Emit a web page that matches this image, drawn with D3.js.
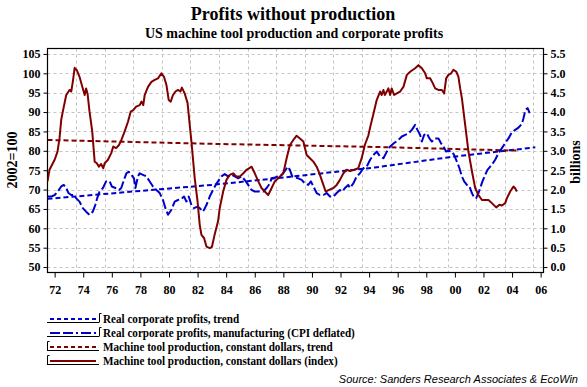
<!DOCTYPE html>
<html><head><meta charset="utf-8">
<script src="https://cdn.jsdelivr.net/npm/d3@7/dist/d3.min.js"></script>
<style>
body{margin:0;background:#fff;}
svg text{font-family:"Liberation Serif","Times New Roman",serif;}
</style></head>
<body><svg id="c" width="587" height="387"></svg>
<script>
// ---------- data ----------
// Machine tool production, constant dollars (index, 2002=100) – left axis
const mtYears = [1972.0,1972.14,1972.5,1972.7,1972.84,1972.96,1973.07,1973.31,1973.54,1973.66,1973.77,1973.9,1974.05,1974.24,1974.47,1974.6,1974.7,1974.8,1974.94,1975.13,1975.3,1975.45,1975.6,1975.75,1975.9,1976.0,1976.23,1976.46,1976.6,1976.8,1977.0,1977.17,1977.4,1977.63,1977.82,1978.0,1978.2,1978.45,1978.57,1978.7,1978.8,1979.03,1979.27,1979.5,1979.73,1979.97,1980.15,1980.32,1980.48,1980.62,1980.78,1980.95,1981.13,1981.3,1981.4,1981.6,1981.8,1981.95,1982.07,1982.3,1982.5,1982.65,1982.77,1982.95,1983.12,1983.35,1983.5,1983.7,1983.93,1984.05,1984.29,1984.52,1984.75,1984.99,1985.2,1985.46,1985.7,1985.93,1986.28,1986.5,1986.75,1986.97,1987.2,1987.44,1987.68,1987.9,1988.14,1988.5,1988.73,1988.96,1989.2,1989.43,1989.66,1989.9,1990.13,1990.36,1990.6,1990.83,1991.06,1991.3,1991.46,1991.7,1992.0,1992.23,1992.46,1992.7,1992.93,1993.16,1993.46,1993.74,1993.98,1994.2,1994.45,1994.6,1994.8,1995.03,1995.27,1995.38,1995.5,1995.6,1995.85,1995.97,1996.08,1996.25,1996.44,1996.67,1996.9,1997.14,1997.37,1997.72,1997.95,1998.19,1998.42,1998.54,1998.77,1998.96,1999.12,1999.35,1999.59,1999.75,1999.89,2000.05,2000.24,2000.4,2000.6,2000.75,2000.87,2000.99,2001.22,2001.45,2001.7,2001.92,2002.15,2002.39,2002.62,2002.85,2003.09,2003.39,2003.62,2003.79,2004.02,2004.14,2004.37,2004.6,2004.7,2004.84];
const mtIndex = [72.1,75.1,77.7,79.8,83.2,88.0,90.1,94.4,95.7,95.3,97.8,101.4,100.8,99.1,96.1,94.4,96.1,94.8,90.1,85.0,77.2,76.8,75.9,76.6,75.5,76.8,77.7,79.4,81.1,80.7,81.5,82.8,85.0,87.5,90.1,90.5,91.4,91.8,92.7,91.8,94.4,96.5,97.8,98.3,98.7,100.0,99.1,97.0,93.1,92.7,94.4,95.3,95.7,95.3,96.3,94.8,92.3,86.7,82.4,72.9,66.9,60.9,58.3,57.5,55.3,54.9,55.2,58.5,61.8,65.2,69.5,72.5,73.8,74.2,73.4,73.4,74.2,75.1,75.9,74.2,72.1,70.4,69.5,68.6,70.4,72.1,72.9,74.2,78.1,81.5,82.8,83.9,83.2,82.4,78.9,78.1,77.2,75.9,73.8,71.2,69.5,69.9,70.4,71.2,72.5,74.2,75.1,74.8,75.1,75.5,78.1,81.5,84.0,86.5,89.5,93.1,95.3,94.4,95.7,94.4,96.1,94.4,96.1,94.4,94.8,95.3,96.5,99.6,100.4,101.3,102.1,101.3,100.0,98.7,98.7,97.4,96.1,95.7,95.7,94.8,98.7,99.6,100.0,100.9,100.4,99.1,96.1,93.6,86.7,79.8,74.6,70.4,68.6,67.3,67.3,67.3,66.5,65.4,66.1,65.9,66.5,67.8,69.5,70.8,70.4,69.5];
// Machine tool production, trend – left axis
const mtTrendYears = [1972.0,1983.5,1994.9,2004.84];
const mtTrend = [82.8,81.8,81.0,80.05];
// Real corporate profits, manufacturing (CPI deflated), billions – right axis
const cpYears = [1972.0,1972.26,1972.5,1972.72,1972.96,1973.14,1973.31,1973.47,1973.66,1973.84,1974.0,1974.24,1974.47,1974.7,1974.94,1975.17,1975.34,1975.48,1975.64,1975.88,1976.1,1976.35,1976.5,1976.75,1977.0,1977.16,1977.35,1977.52,1977.68,1977.87,1978.05,1978.15,1978.33,1978.45,1978.68,1978.92,1979.15,1979.38,1979.62,1979.85,1980.08,1980.25,1980.43,1980.67,1980.9,1981.13,1981.37,1981.55,1981.72,1981.88,1982.07,1982.25,1982.5,1982.65,1982.88,1983.12,1983.35,1983.58,1983.8,1983.93,1984.17,1984.4,1984.63,1984.87,1985.1,1985.34,1985.57,1985.8,1986.04,1986.27,1986.5,1986.86,1987.09,1987.33,1987.56,1987.68,1987.91,1988.14,1988.38,1988.61,1988.8,1988.96,1989.12,1989.31,1989.54,1989.78,1990.0,1990.24,1990.43,1990.6,1990.83,1991.06,1991.3,1991.53,1991.76,1992.0,1992.23,1992.46,1992.62,1992.81,1993.04,1993.16,1993.4,1993.63,1993.86,1994.1,1994.33,1994.57,1994.8,1995.03,1995.27,1995.5,1995.74,1995.97,1996.25,1996.55,1996.79,1997.02,1997.25,1997.49,1997.72,1997.88,1998.07,1998.19,1998.35,1998.54,1998.72,1998.89,1999.12,1999.35,1999.52,1999.7,1999.89,2000.05,2000.29,2000.45,2000.64,2000.82,2000.99,2001.15,2001.34,2001.52,2001.69,2001.85,2001.99,2002.15,2002.27,2002.43,2002.62,2002.78,2002.97,2003.16,2003.32,2003.55,2003.79,2004.02,2004.25,2004.49,2004.72,2004.95,2005.18,2005.3,2005.43,2005.59,2005.73];
const cpProfits = [1.82,1.82,1.86,1.95,2.08,2.12,2.04,1.91,1.86,1.86,1.78,1.69,1.52,1.43,1.35,1.43,1.60,1.78,1.95,2.04,2.21,2.21,2.08,2.04,1.99,2.04,2.25,2.42,2.46,2.38,2.29,2.04,2.34,2.42,2.38,2.34,2.21,2.08,1.99,1.91,1.73,1.52,1.35,1.48,1.69,1.73,1.76,1.82,1.69,1.82,1.60,1.52,1.56,1.52,1.43,1.60,1.82,1.99,2.14,2.21,2.34,2.40,2.34,2.38,2.34,2.29,2.34,2.25,2.12,1.99,1.95,1.95,1.95,2.04,2.16,2.29,2.31,2.34,2.38,2.48,2.59,2.51,2.34,2.31,2.29,2.25,2.16,2.12,2.21,2.08,1.91,1.86,1.86,1.91,1.82,1.82,1.91,1.99,1.95,2.04,2.12,2.04,2.16,2.34,2.42,2.55,2.59,2.77,2.89,2.98,2.85,2.81,2.98,3.11,3.20,3.28,3.37,3.41,3.45,3.54,3.67,3.54,3.41,3.24,3.41,3.45,3.32,3.24,3.32,3.32,3.20,3.11,2.98,3.00,2.98,2.89,2.72,2.55,2.34,2.21,2.12,2.08,1.91,1.79,1.78,1.91,2.04,2.21,2.38,2.51,2.59,2.68,2.77,2.94,3.07,3.20,3.32,3.48,3.54,3.60,3.69,3.84,4.05,4.10,3.97];
// Real corporate profits, trend – right axis
const cpTrendYears = [1972.0,1978.0,1983.5,1989.0,1994.9,2000.0,2006.13];
const cpTrend = [1.76,1.95,2.12,2.33,2.57,2.83,3.09];

const leftTicks = [50,55,60,65,70,75,80,85,90,95,100,105];
const rightTicks = [0,0.5,1,1.5,2,2.5,3,3.5,4,4.5,5,5.5];
const xTickYears = [1972,1974,1976,1978,1980,1982,1984,1986,1988,1990,1992,1994,1996,1998,2000,2002,2004,2006];
const xTickLabels = ["72","74","76","78","80","82","84","86","88","90","92","94","96","98","00","02","04","06"];

const legendItems = [
  {label:"Real corporate profits, trend", color:"#0000cc", dash:"4,3", side:"right"},
  {label:"Real corporate profits, manufacturing (CPI deflated)", color:"#0000cc", dash:"10,3,10,3,2,3", side:"right"},
  {label:"Machine tool production, constant dollars, trend", color:"#800000", dash:"4,3", side:"left"},
  {label:"Machine tool production, constant dollars (index)", color:"#800000", dash:null, side:"left"}
];

// ---------- drawing ----------
const svg = d3.select("#c");
const L = 47.5, R = 543.5, T = 48.5, B = 272.5;
const x = d3.scaleLinear().domain([1972, 2006.7]).range([L, R]);
const yL = d3.scaleLinear().domain([48.6, 106.4]).range([B, T]);
const yR = d3.scaleLinear().domain([-0.14, 5.64]).range([B, T]);

const RED = "#800000", BLUE = "#0000cc";

// title
svg.append("text").attr("x",293).attr("y",20).attr("text-anchor","middle")
  .style("font-weight","bold").style("font-size","18px").text("Profits without production");
svg.append("text").attr("x",294).attr("y",38).attr("text-anchor","middle")
  .style("font-weight","bold").style("font-size","14px").text("US machine tool production and corporate profits");

// grid
const g = svg.append("g");
g.selectAll("line.hg").data(leftTicks).join("line")
  .attr("x1",L).attr("x2",R).attr("y1",d=>Math.round(yL(d))+0.5).attr("y2",d=>Math.round(yL(d))+0.5)
  .attr("stroke","#c4c4c4").attr("stroke-dasharray","3,3");
g.selectAll("line.vg").data(xTickYears.slice(1)).join("line")
  .attr("x1",d=>Math.round(x(d))+0.5).attr("x2",d=>Math.round(x(d))+0.5).attr("y1",T).attr("y2",B)
  .attr("stroke","#c4c4c4").attr("stroke-dasharray","3,3");

// axes
const axL = d3.axisLeft(yL).tickValues(leftTicks).tickSize(4).tickPadding(3).tickFormat(d3.format("d"));
const axR = d3.axisRight(yR).tickValues(rightTicks).tickSize(4).tickPadding(3).tickFormat(d3.format(".1f"));
const axB = d3.axisBottom(x).tickValues(xTickYears.map(d=>d+0.5)).tickSize(5).tickPadding(8)
  .tickFormat((d,i)=>xTickLabels[i]);
function styleAx(s){
  s.select(".domain").remove();
  s.selectAll("line").attr("stroke","#000");
  s.selectAll("text").style("font-family","'Liberation Serif',serif").style("font-weight","bold").style("font-size","12px").attr("fill","#000");
}
svg.append("g").attr("transform",`translate(${L},0)`).call(axL).call(styleAx);
svg.append("g").attr("transform",`translate(${R},0)`).call(axR).call(styleAx);
svg.append("g").attr("transform",`translate(0,${B})`).call(axB).call(styleAx);

// frame
svg.append("rect").attr("x",L).attr("y",T).attr("width",R-L).attr("height",B-T)
  .attr("fill","none").attr("stroke","#000").attr("stroke-width",1.2);

// axis titles
svg.append("text").attr("transform","translate(17,160) rotate(-90)").attr("text-anchor","middle")
  .style("font-weight","bold").style("font-size","14px").text("2002=100");
svg.append("text").attr("transform","translate(580,162) rotate(-90)").attr("text-anchor","middle")
  .style("font-weight","bold").style("font-size","14px").text("billions");

// series
const clip = svg.append("clipPath").attr("id","pc").append("rect")
  .attr("x",L).attr("y",T).attr("width",R-L).attr("height",B-T);
const plot = svg.append("g").attr("clip-path","url(#pc)");
function draw(years, vals, ys, color, dash){
  const line = d3.line().x((d,i)=>x(years[i])).y(d=>ys(d));
  plot.append("path").attr("d",line(vals)).attr("fill","none").attr("stroke",color)
    .attr("stroke-width",2).attr("stroke-linejoin","round")
    .attr("stroke-dasharray",dash);
}
draw(cpTrendYears, cpTrend, yR, BLUE, "5,3");
draw(mtTrendYears, mtTrend, yL, RED, "5,3");
draw(cpYears, cpProfits, yR, BLUE, "10,3");
draw(mtYears, mtIndex, yL, RED, null);

// legend
const lg = svg.append("g");
legendItems.forEach((it,i)=>{
  const cy = 319 + i*14;
  lg.append("line").attr("x1",50).attr("x2",96).attr("y1",cy).attr("y2",cy)
    .attr("stroke",it.color).attr("stroke-width",2).attr("stroke-dasharray",it.dash);
  lg.append("line").attr("x1",47).attr("x2",99).attr("y1",cy+3.5).attr("y2",cy+3.5).attr("stroke","#000").attr("stroke-width",1);
  const bx = it.side==="right" ? 99.5 : 47.5;
  lg.append("path").attr("d",`M${bx+2},${cy-5.5}H${bx}V${cy+3.5}`).attr("fill","none").attr("stroke","#000").attr("stroke-width",1);
  lg.append("text").attr("transform",`translate(103,${cy+4}) scale(0.89,1)`)
    .style("font-weight","bold").style("font-size","12.5px").text(it.label);
});
svg.append("text").attr("x",578).attr("y",383).attr("text-anchor","end")
  .style("font-family","'Liberation Sans',sans-serif").style("font-style","italic").style("font-size","11px")
  .text("Source: Sanders Research Associates & EcoWin");
</script></body></html>
